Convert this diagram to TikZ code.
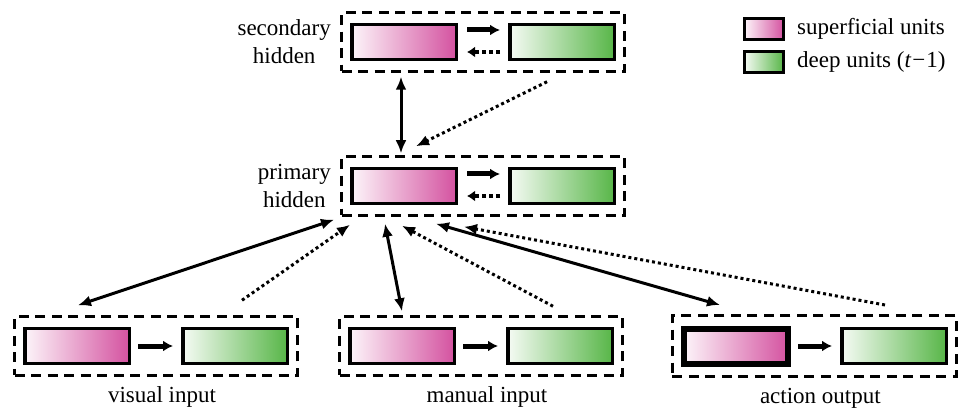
\documentclass[tikz,border=0pt]{standalone}
\usepackage{fontspec}
\setmainfont{Liberation Serif}
\newfontfamily\labelfont{Liberation Serif}
\usetikzlibrary{arrows.meta,fit,calc,positioning}
\definecolor{supcol}{RGB}{212,82,160}
\definecolor{deepcol}{RGB}{88,182,72}

\begin{document}
\begin{tikzpicture}[x=1pt,y=-1pt,font=\labelfont\fontsize{23}{28}\selectfont,
  unit/.style={draw=black,line width=3.5pt,minimum width=104.5pt,minimum height=35pt,inner sep=0pt},
  sup/.style={unit,left color=supcol!6,right color=supcol},
  deep/.style={unit,left color=deepcol!6,right color=deepcol},
  layer/.style={draw,line width=3pt,dash pattern=on 10pt off 6.5pt,inner xsep=8.5pt,inner ysep=10pt},
  con/.style={line width=3pt,{Latex[length=13pt,width=11pt]}-{Latex[length=13pt,width=11pt]}},
  back/.style={line width=3pt,dash pattern=on 3pt off 3pt,-{Latex[length=13pt,width=11pt]}},
  fwd/.style={line width=5pt,-{Latex[length=10pt,width=11pt]}},
  backs/.style={line width=4.5pt,dash pattern=on 4pt off 3pt,-{Latex[length=8pt,width=11pt]}}]
\useasboundingbox (0,0) rectangle (958,414);

% hidden layers
\foreach \n/\y/\txt in {sec/42/secondary\\hidden, pri/186/primary\\hidden}
  {\node[sup] (\n M) at (404,\y) {};
   \node[deep] (\n G) at (562,\y) {};
   \node[layer,fit=(\n M)(\n G)] (\n) {};
   \draw[fwd] ($(\n M.east)+(9,-12)$) -- ($(\n G.west)+(-8,-12)$);
   \draw[backs] ($(\n G.west)+(-8,10)$) -- ($(\n M.east)+(9,10)$);
   \node[anchor=east,align=center,inner sep=0pt] at ([xshift=-9pt]\n.west) {\txt};}

% input and output layers
\foreach \n/\x/\txt/\lw in {vis/77/visual input/3.5, man/402/manual input/3.5, act/736/action output/6}
  {\node[sup,line width=\lw pt] (\n M) at (\x,346) {};
   \node[deep] (\n G) at (\x+158,346) {};
   \node[layer,fit=(\n M)(\n G)] (\n) {};
   \draw[fwd] ($(\n M.east)+(7,0)$) -- ($(\n G.west)+(-8,0)$);
   \node[anchor=north,inner sep=0pt] at ([xshift=6pt,yshift=-10pt]\n.south) {\txt};}

% connections
\draw[con] ($(secM |- sec.south)+(-3,4)$) -- ($(secM |- pri.north)+(-3,-2)$);
\draw[back] ($(secG |- sec.south)+(-15,9)$) -- ($(secM |- pri.north)+(12,-9)$);
\draw[con] ($(pri.south west)+(-6,3)$) -- ($(visM |- vis.north)+(1,-10)$);
\draw[back] ($(visG |- vis.north)+(7,-15)$) -- ($(pri.south west)+(10,8)$);
\draw[con] ($(manM |- pri.south)+(-17,7)$) -- ($(manM |- man.north)+(0,-4)$);
\draw[back] ($(manG |- man.north)+(-7,-9)$) -- ($(manM |- pri.south)+(0,9)$);
\draw[con] ($(manM |- pri.south)+(34,7)$) -- ($(actM |- act.north)+(-16,-9)$);
\draw[back] ($(actG |- act.north)+(-9,-9)$) -- ($(manM |- pri.south)+(62,10)$);

% legend
\node[sup,line width=3pt,minimum width=39pt,minimum height=21pt] (keyS) at (764,29) {};
\node[deep,line width=3pt,minimum width=39pt,minimum height=21pt] (keyD) at (764,62) {};
\node[right=12pt of keyS,inner sep=0pt] {superficial units};
\node[right=12pt of keyD,inner sep=0pt] {deep units (\textit{t}\kern1pt−\kern1pt1)};
\end{tikzpicture}
\end{document}
